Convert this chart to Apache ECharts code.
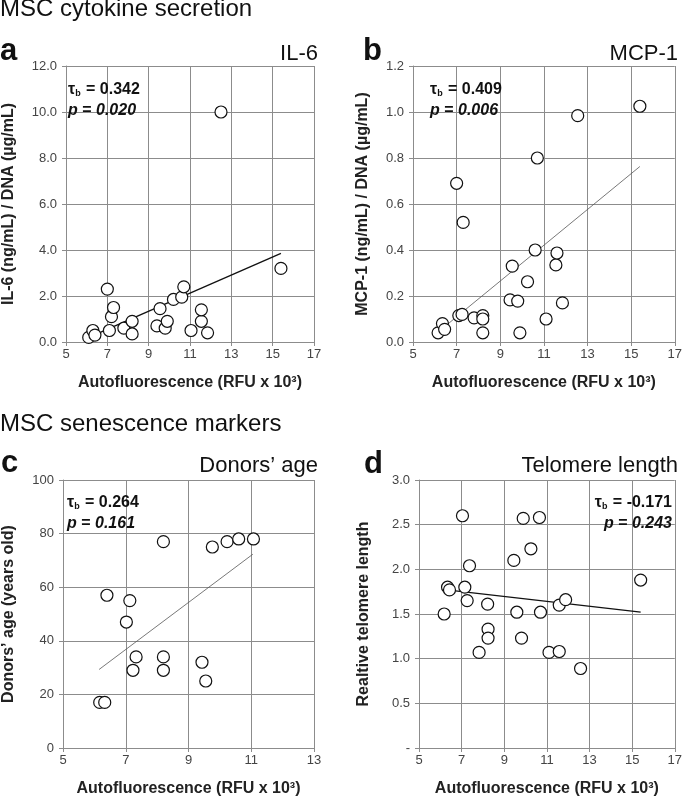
<!DOCTYPE html>
<html><head><meta charset="utf-8">
<script src="https://cdn.jsdelivr.net/npm/echarts@6/dist/echarts.min.js"></script>
<style>html,body{margin:0;padding:0;background:#fff}#c{width:685px;height:798px}</style>
</head><body><div id="c"></div>
<script>
// Panel a: IL-6
const aX = [6.1,6.3,6.4,7.0,7.1,7.2,7.3,7.8,8.2,8.2,9.4,9.55,9.8,9.9,10.2,10.6,10.7,11.05,11.55,11.55,11.85,12.5,15.4];
const aY = [0.2,0.5,0.3,2.3,0.5,1.1,1.5,0.6,0.9,0.35,0.7,1.45,0.6,0.9,1.85,1.95,2.4,0.5,0.9,1.4,0.4,10.0,3.2];
const aTrendX = [6.3,15.4], aTrendY = [0.28,3.85];
// Panel b: MCP-1
const bX = [6.15,6.35,6.45,7.0,7.1,7.25,7.3,7.8,8.2,8.2,8.2,9.45,9.55,9.8,9.9,10.25,10.6,10.7,11.1,11.55,11.6,11.85,12.55,15.4];
const bY = [0.04,0.08,0.055,0.69,0.115,0.12,0.52,0.105,0.115,0.1,0.04,0.183,0.33,0.178,0.04,0.262,0.4,0.8,0.1,0.335,0.387,0.17,0.984,1.025];
const bTrendX = [6.3,15.4], bTrendY = [0.055,0.763];
// Panel c: Donors' age
const cX = [6.17,6.33,6.4,7.02,7.13,7.23,7.33,8.2,8.2,8.2,9.43,9.55,9.76,10.23,10.6,11.07];
const cY = [17,17,57,47,55,29,34,77,34,29,32,25,75,77,78,78];
const cTrendX = [6.15,11.05], cTrendY = [29.3,72.3];
// Panel d: Telomere length
const dX = [6.18,6.34,6.43,7.04,7.15,7.26,7.37,7.82,8.22,8.24,8.24,9.45,9.59,9.81,9.89,10.25,10.65,10.7,11.1,11.58,11.58,11.88,12.58,15.4];
const dY = [1.5,1.8,1.77,2.6,1.8,1.65,2.04,1.07,1.61,1.33,1.23,2.1,1.52,1.23,2.57,2.23,2.58,1.52,1.07,1.08,1.6,1.66,0.89,1.88];
const dTrendX = [6.3,15.4], dTrendY = [1.77,1.52];

const xName = 'Autofluorescence (RFU x 10³)';
const yNames = ['IL-6 (ng/mL) / DNA (µg/mL)','MCP-1 (ng/mL) / DNA (µg/mL)','Donors’ age (years old)','Realtive telomere length'];
const panelTitles = ['IL-6','MCP-1','Donors’ age','Telomere length'];
const letters = ['a','b','c','d'];
const sections = ['MSC cytokine secretion','MSC senescence markers'];
const taus = ['0.342','0.409','0.264','-0.171'];
const ps = ['0.020','0.006','0.161','0.243'];

const FONT = 'Arial, "Liberation Sans", Helvetica, sans-serif';
const GRID_C = '#8c8c8c';
const chart = echarts.init(document.getElementById('c'), null, {renderer:'canvas'});

const grids = [
  {left:57, top:66, width:257, height:276},
  {left:413, top:66, width:264, height:276},
  {left:53, top:480, width:261, height:274},
  {left:419, top:480, width:257, height:274}
];
const xRanges = [[5,17,2],[5,17,2],[5,13,2],[5,17,2]];
const yRanges = [[0,12,2],[0,1.2,0.2],[0,100,20],[0,3,0.5]];
const yFmt = [
  v => v.toFixed(1),
  v => v.toFixed(1),
  v => String(v),
  v => v === 0 ? '-' : v.toFixed(1)
];
const yGaps = [49,42,46,47];

const xAxes = grids.map((g,i)=>({
  type:'value', gridIndex:i, min:xRanges[i][0], max:xRanges[i][1], interval:xRanges[i][2],
  name:xName, nameLocation:'middle', nameGap:33,
  nameTextStyle:{fontFamily:FONT, fontWeight:'bold', fontSize:16, color:'#222'},
  axisLine:{lineStyle:{color:GRID_C, width:1}},
  axisTick:{show:true, length:4, lineStyle:{color:GRID_C}},
  axisLabel:{fontFamily:FONT, fontSize:13, color:'#444', margin:6},
  splitLine:{show:true, lineStyle:{color:GRID_C, width:1}}
}));
const yAxes = grids.map((g,i)=>({
  type:'value', gridIndex:i, min:yRanges[i][0], max:yRanges[i][1], interval:yRanges[i][2],
  name:yNames[i], nameLocation:'middle', nameGap:yGaps[i],
  nameTextStyle:{fontFamily:FONT, fontWeight:'bold', fontSize:16, color:'#222'},
  axisLine:{show:true, lineStyle:{color:GRID_C, width:1}},
  axisTick:{show:true, length:4, lineStyle:{color:GRID_C}},
  axisLabel:{fontFamily:FONT, fontSize:13, color:'#444', margin:9, formatter:yFmt[i]},
  splitLine:{show:true, lineStyle:{color:GRID_C, width:1}}
}));

const pts = [[aX,aY],[bX,bY],[cX,cY],[dX,dY]];
const trends = [[aTrendX,aTrendY],[bTrendX,bTrendY],[cTrendX,cTrendY],[dTrendX,dTrendY]];
const trendStyle = [{color:'#111',width:1.3},{color:'#555',width:0.8},{color:'#555',width:0.8},{color:'#111',width:1.3}];
const series = [];
pts.forEach((p,i)=>{
  series.push({
    type:'line', xAxisIndex:i, yAxisIndex:i, symbol:'none', silent:true, z:2,
    lineStyle:trendStyle[i],
    data:trends[i][0].map((x,k)=>[x,trends[i][1][k]])
  });
  series.push({
    type:'scatter', xAxisIndex:i, yAxisIndex:i, symbol:'circle', symbolSize:12, z:3,
    itemStyle:{color:'#fff', borderColor:'#111', borderWidth:1.2, opacity:1},
    data:p[0].map((x,k)=>[x,p[1][k]])
  });
});

function txt(x,y,text,opts){
  return {type:'text', x:x, y:y, z:10, style:Object.assign({text:text, fill:'#111', fontFamily:FONT, textVerticalAlign:'middle', verticalAlign:'middle'}, opts)};
}
const rich = {
  t:{fontFamily:FONT, fontWeight:'bold', fontSize:16, fill:'#111', color:'#111'},
  s:{fontFamily:FONT, fontWeight:'bold', fontSize:9, fill:'#111', color:'#111', padding:[7,1,0,0]},
  i:{fontFamily:FONT, fontWeight:'bold', fontStyle:'italic', fontSize:16, fill:'#111', color:'#111'}
};
const annPos = [
  {x:68, y:90, align:'left'},
  {x:430, y:90, align:'left'},
  {x:67, y:503, align:'left'},
  {x:672, y:503, align:'right'}
];
const graphics = [
  txt(0, 9, sections[0], {fontSize:24}),
  txt(0, 424, sections[1], {fontSize:24}),
  txt(0, 51, letters[0], {fontSize:31, fontWeight:'bold'}),
  txt(363, 51, letters[1], {fontSize:31, fontWeight:'bold'}),
  txt(1, 463, letters[2], {fontSize:31, fontWeight:'bold'}),
  txt(364, 464, letters[3], {fontSize:31, fontWeight:'bold'}),
  txt(318, 54, panelTitles[0], {fontSize:22, textAlign:'right', align:'right'}),
  txt(678, 54, panelTitles[1], {fontSize:22, textAlign:'right', align:'right'}),
  txt(318, 466, panelTitles[2], {fontSize:22, textAlign:'right', align:'right'}),
  txt(678, 466, panelTitles[3], {fontSize:22, textAlign:'right', align:'right'})
];
annPos.forEach((a,i)=>{
  graphics.push(txt(a.x, a.y, '{t|τ}{s|b}{t| = '+taus[i]+'}', {rich:rich, textAlign:a.align, align:a.align}));
  graphics.push(txt(a.x, a.y+21, '{i|p}{t| = }{i|'+ps[i]+'}', {rich:rich, textAlign:a.align, align:a.align}));
});

chart.setOption({
  animation:false,
  backgroundColor:'#fff',
  grid:grids,
  xAxis:xAxes,
  yAxis:yAxes,
  series:series,
  graphic:graphics
});
</script></body></html>
